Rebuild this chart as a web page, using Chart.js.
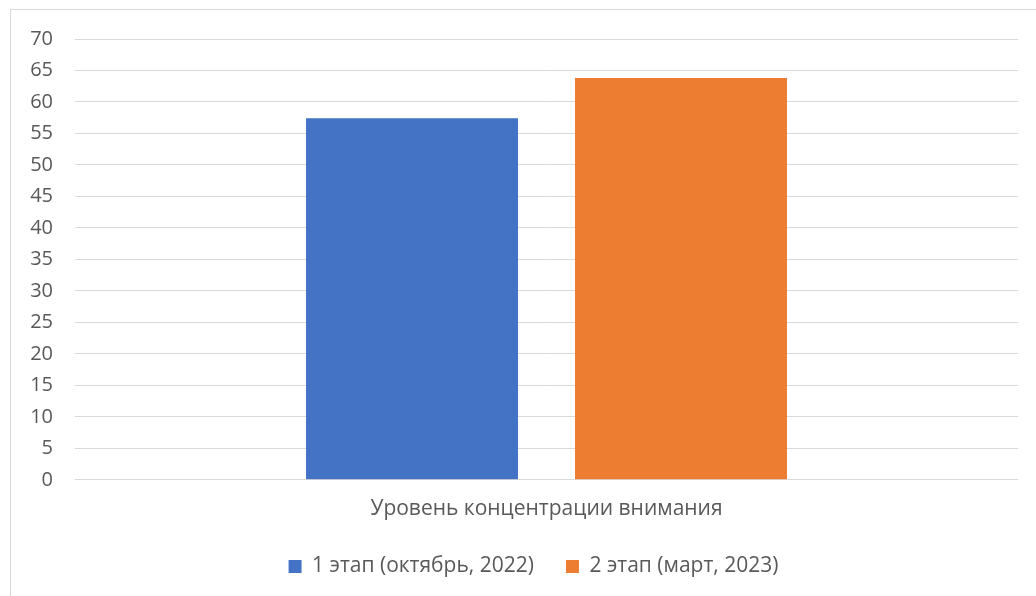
<!DOCTYPE html>
<html>
<head>
<meta charset="utf-8">
<script src="https://cdn.jsdelivr.net/npm/chart.js@4"></script>
<style>
  html, body { margin: 0; padding: 0; background: #fff; overflow: hidden; }
  canvas { display: block; }
</style>
</head>
<body>
<canvas id="grafico" width="1036" height="596"></canvas>
<script>
const categories = ['Уровень концентрации внимания'];
const seriesNames = ['1 этап (октябрь, 2022)', '2 этап (март, 2023)'];
const stage1 = [57.4];
const stage2 = [63.8];

const textColor = '#595959';
const fontFamily = '"Open Sans", "Noto Sans", sans-serif';

// thin grey frame around the chart like the original
const frame = {
    id: 'frame',
    beforeDraw(chart) {
        const c = chart.ctx;
        c.save();
        c.fillStyle = '#ffffff';
        c.fillRect(0, 0, chart.width, chart.height);
        c.strokeStyle = '#d9d9d9';
        c.lineWidth = 1;
        c.strokeRect(10.5, 9.5, 1200, 1000);
        c.restore();
    },
    // legend in the original sits closer to the axis title and is centred under the plot
    afterLayout(chart) {
        chart.legend.left += 10;
        chart.legend.right += 10;
        chart.legend.top -= 15;
        chart.legend.bottom -= 15;
    }
};

const ctx = document.getElementById('grafico');

const chart = new Chart(ctx, {
    type: 'bar',
    data: {
        labels: categories,
        datasets: [
            {
                label: seriesNames[0],
                backgroundColor: '#4472C4',
                data: stage1
            },
            {
                label: seriesNames[1],
                backgroundColor: '#ED7D31',
                data: stage2
            }
        ]
    },
    options: {
        responsive: false,
        animation: false,
        categoryPercentage: 0.5705,
        barPercentage: 0.788,
        layout: {
            padding: { left: 29, right: 18, top: 39, bottom: -6 }
        },
        plugins: {
            legend: {
                position: 'bottom',
                labels: {
                    boxWidth: 13,
                    boxHeight: 13,
                    padding: 32,
                    color: textColor,
                    font: { family: fontFamily, size: 21 }
                }
            },
            tooltip: { enabled: false }
        },
        scales: {
            x: {
                grid: { display: false, drawTicks: false },
                border: { display: false },
                ticks: {
                    padding: 17,
                    color: textColor,
                    font: { family: fontFamily, size: 21 }
                }
            },
            y: {
                min: 0,
                max: 70,
                grid: { color: '#d9d9d9', lineWidth: 1, drawTicks: false },
                border: { display: false },
                ticks: {
                    stepSize: 5,
                    padding: 22,
                    color: textColor,
                    font: { family: fontFamily, size: 20 }
                },
                afterFit: function(scale) {
                    scale.width = 46;
                }
            }
        }
    },
    plugins: [frame]
});
</script>
</body>
</html>
